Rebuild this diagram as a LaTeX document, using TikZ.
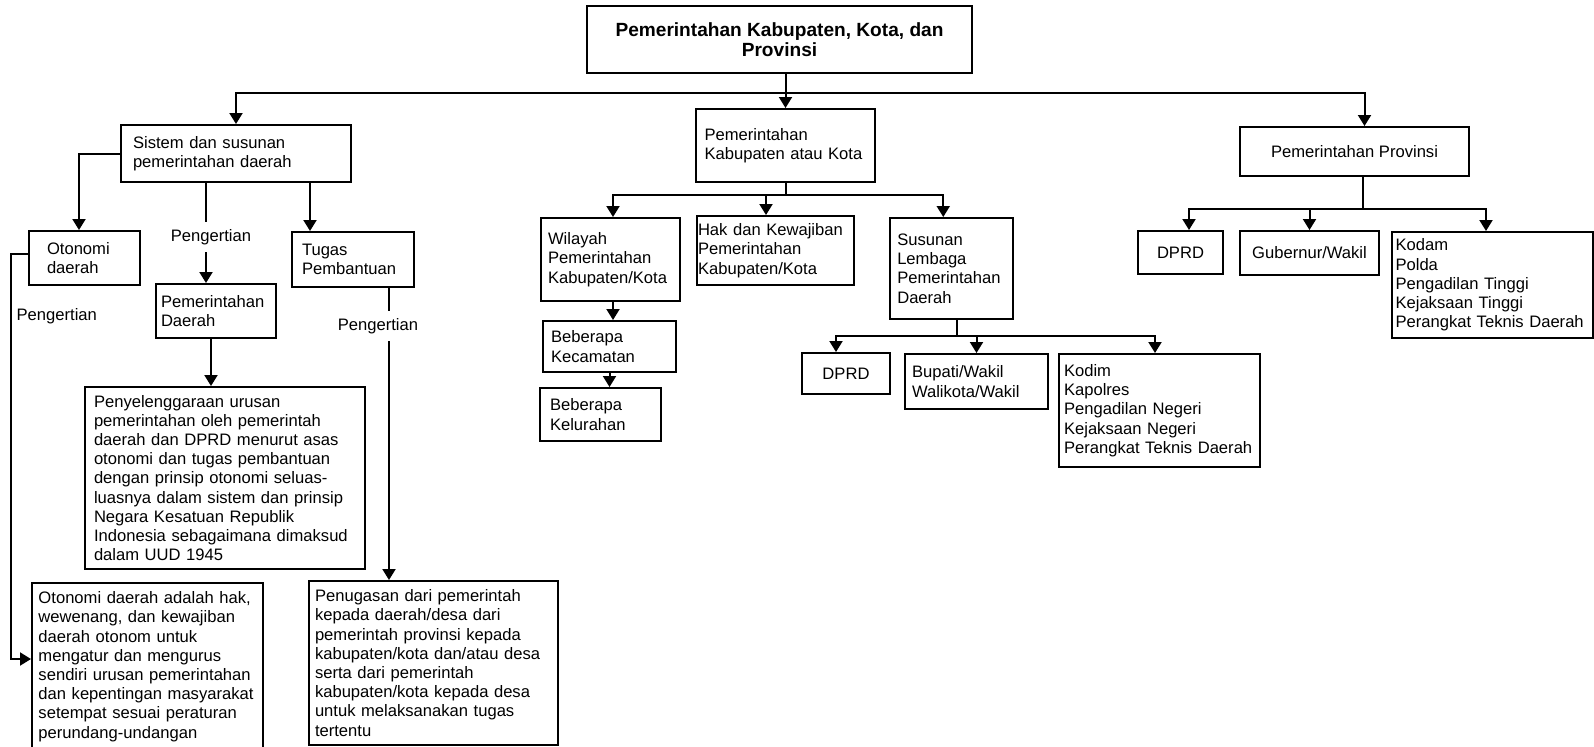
\documentclass[tikz,border=0pt]{standalone}
\usepackage{fontspec}
\setmainfont{Liberation Sans}
\usepackage{tikz}
\usetikzlibrary{arrows.meta}
\tikzset{>={Triangle[length=5.5pt,width=6.5pt]}}
\tikzstyle{kotak}=[draw,inner xsep=0pt,inner ysep=0pt,align=left]
\tikzstyle{tengah}=[draw,inner sep=0pt,align=center]

\begin{document}
\begin{tikzpicture}[x=0.5pt,y=-0.5pt,line width=1pt,font=\fontsize{8.3}{9.6}\selectfont]
	\useasboundingbox (0,0) rectangle (1594,746);
	% puncak
	\node[tengah,minimum width=192.5pt,minimum height=33.5pt,font=\fontsize{9.55}{10}\bfseries] at (779.5,39.5) (judul) {Pemerintahan Kabupaten, Kota, dan\\Provinsi};
	\node[kotak,minimum width=115pt,minimum height=28.5pt,text width=103pt] at (236,153.5) (sistem) {Sistem dan susunan\\pemerintahan daerah};
	\node[kotak,minimum width=89.5pt,minimum height=36.5pt,text width=81pt] at (785.5,145.5) (kabkota) {Pemerintahan\\Kabupaten atau Kota};
	\node[tengah,minimum width=114.5pt,minimum height=24.5pt] at (1354.5,151.5) (prov) {Pemerintahan Provinsi};
	
	\coordinate (cab) at (700,93);
	\draw[<->] (sistem.north) |- (cab) -| ([xshift=5pt]prov.north);
	\draw[->] (judul.south -| kabkota.north) -- (kabkota.north);
	
	% cabang kiri
	\node[kotak,minimum width=55.5pt,minimum height=27pt,text width=37.5pt] at (84.5,258) (otonomi) {Otonomi\\daerah};
	\node[kotak,minimum width=60pt,minimum height=27pt,text width=55pt] at (216,311) (pemda) {Pemerintahan\\Daerah};
	\node[kotak,minimum width=61pt,minimum height=27.5pt,text width=51pt] at (353,259.5) (tugas) {Tugas\\Pembantuan};
	\node[kotak,minimum width=140pt,minimum height=91pt,text width=131pt] at (225,478) (urusan) {Penyelenggaraan urusan\\pemerintahan oleh pemerintah\\daerah dan DPRD menurut asas\\otonomi dan tugas pembantuan\\dengan prinsip otonomi seluas-\\luasnya dalam sistem dan prinsip\\Negara Kesatuan Republik\\Indonesia sebagaimana dimaksud\\dalam UUD 1945};
	\node[kotak,minimum width=115.5pt,minimum height=83.5pt,text width=109pt] at (147.5,666.5) (hakotonomi) {Otonomi daerah adalah hak,\\wewenang, dan kewajiban\\daerah otonom untuk\\mengatur dan mengurus\\sendiri urusan pemerintahan\\dan kepentingan masyarakat\\setempat sesuai peraturan\\perundang-undangan};
	\node[kotak,minimum width=124.5pt,minimum height=82pt,text width=118.5pt] at (433.5,663) (penugasan) {Penugasan dari pemerintah\\kepada daerah/desa dari\\pemerintah provinsi kepada\\kabupaten/kota dan/atau desa\\serta dari pemerintah\\kabupaten/kota kepada desa\\untuk melaksanakan tugas\\tertentu};
	
	\node at (211,237) (pgr1) {Pengertian};
	\node at (378,326) (pgr2) {Pengertian};
	\node[anchor=west] at (9,316) (pgr3) {Pengertian};
	
	\draw[->] (sistem.west) -| ([xshift=-2.75pt]otonomi.north);
	\draw ([xshift=-2.5pt]pgr1.north |- sistem.south) -- ([xshift=-2.5pt]pgr1.north);
	\draw[->] ([xshift=-2.5pt]pgr1.south) -- ([xshift=-2.5pt]pgr1.south |- pemda.north);
	\draw[->] ([xshift=-21.5pt]tugas.north |- sistem.south) -- ([xshift=-21.5pt]tugas.north);
	\draw[->] (pemda.south -| pgr1.south) -- (pgr1.south |- urusan.north);
	\draw ([xshift=5.5pt]pgr2.north |- tugas.south) -- ([xshift=5.5pt]pgr2.north);
	\draw[->] ([xshift=5.5pt]pgr2.south) -- ([xshift=5.5pt]pgr2.south |- penugasan.north);
	\coordinate (siku) at (11,659);
	\draw[->] ([yshift=2pt]otonomi.west) -| (siku) -- (siku -| hakotonomi.west);
	
	% cabang tengah
	\node[kotak,minimum width=69.5pt,minimum height=41.5pt,text width=62.5pt] at (610.5,259.5) (wilayah) {Wilayah\\Pemerintahan\\Kabupaten/Kota};
	\node[kotak,minimum width=78.5pt,minimum height=34.5pt,text width=77.5pt] at (775.5,250.5) (hak) {Hak dan Kewajiban\\Pemerintahan\\Kabupaten/Kota};
	\node[kotak,minimum width=61.75pt,minimum height=50.5pt,text width=54pt] at (951.25,268.5) (susunan) {Susunan\\Lembaga\\Pemerintahan\\Daerah};
	\node[kotak,minimum width=66.5pt,minimum height=25.5pt,text width=58.5pt] at (609.5,346.5) (kecamatan) {Beberapa\\Kecamatan};
	\node[kotak,minimum width=60.5pt,minimum height=26.5pt,text width=50.5pt] at (600.5,414.5) (kelurahan) {Beberapa\\Kelurahan};
	\node[tengah,minimum width=44pt,minimum height=20.5pt] at (846,373.5) (dprdkab) {DPRD};
	\node[kotak,minimum width=71.5pt,minimum height=27.5pt,text width=64.5pt] at (976.5,381.5) (bupati) {Bupati/Wakil\\Walikota/Wakil};
	\node[kotak,minimum width=100.5pt,minimum height=56.5pt,text width=95.5pt] at (1159.5,410.5) (kodim) {Kodim\\Kapolres\\Pengadilan Negeri\\Kejaksaan Negeri\\Perangkat Teknis Daerah};
	
	\coordinate (kk) at (780,195);
	\draw (kabkota.south) -- (kabkota.south |- kk);
	\draw[<->] ([xshift=1.25pt]wilayah.north) |- (kk) -| ([xshift=-4pt]susunan.north);
	\draw[->] ([xshift=-4.75pt]hak.north |- kk) -- ([xshift=-4.75pt]hak.north);
	\draw[->] ([xshift=1.25pt]wilayah.south) -- ([xshift=1.25pt]wilayah.south |- kecamatan.north);
	\draw[->] (kecamatan.south) -- (kecamatan.south |- kelurahan.north);
	
	\coordinate (ss) at (950,336);
	\draw ([xshift=3pt]susunan.south) -- ([xshift=3pt]susunan.south |- ss);
	\draw[<->] ([xshift=-5pt]dprdkab.north) |- (ss) -| ([xshift=-2.25pt]kodim.north);
	\draw[->] (bupati.north |- ss) -- (bupati.north);
	
	% cabang kanan
	\node[tengah,minimum width=42.5pt,minimum height=21.5pt] at (1180.5,252.5) (dprdprov) {DPRD};
	\node[tengah,minimum width=69.5pt,minimum height=22pt] at (1309.5,253) (gubernur) {Gubernur/Wakil};
	\node[kotak,minimum width=100.5pt,minimum height=53pt,text width=97pt] at (1492.5,285) (kodam) {Kodam\\Polda\\Pengadilan Tinggi\\Kejaksaan Tinggi\\Perangkat Teknis Daerah};
	
	\coordinate (pp) at (1360,209);
	\draw ([xshift=4.25pt]prov.south) -- ([xshift=4.25pt]prov.south |- pp);
	\draw[<->] ([xshift=4.25pt]dprdprov.north) |- (pp) -| ([xshift=-3.25pt]kodam.north);
	\draw[->] (gubernur.north |- pp) -- (gubernur.north);
\end{tikzpicture}
\end{document}
